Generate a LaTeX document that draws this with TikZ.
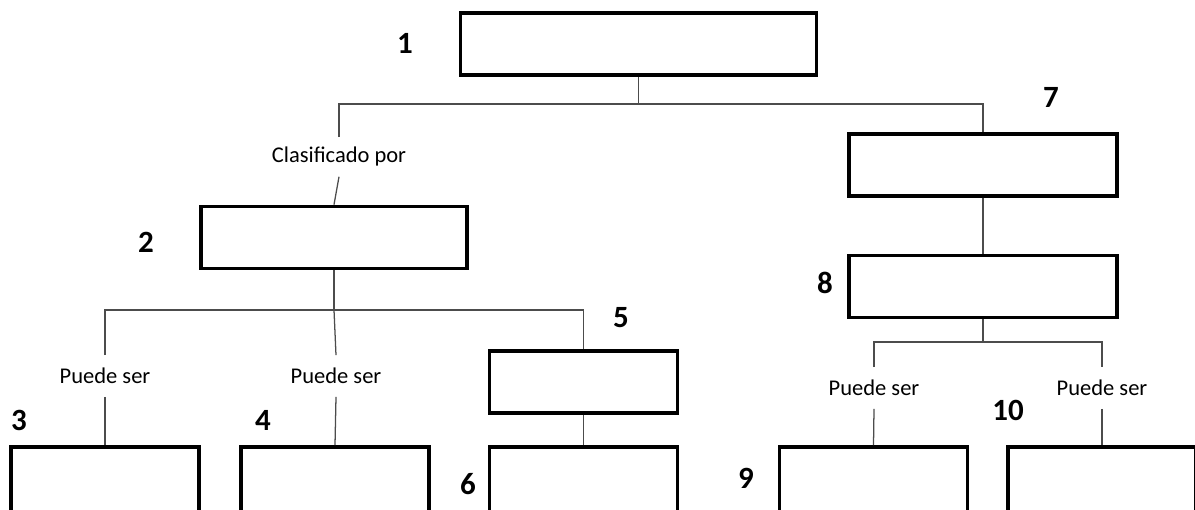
\documentclass[tikz,border=0pt]{standalone}
\usepackage{fontspec}
\setmainfont{Carlito}
\tikzset{
  box/.style={draw, line width=2.6pt, inner sep=0pt, minimum height=1.55cm},
  num/.style={font=\fontsize{22}{22}\selectfont\bfseries},
  rel/.style={font=\fontsize{16}{16}\selectfont, inner sep=9pt},
  link/.style={draw=black!70, line width=0.9pt}
}
\begin{document}
\begin{tikzpicture}[x=0.025cm,y=-0.025cm]
\useasboundingbox (0,0) rectangle (1195,510);
% cajas
\node[box, minimum width=8.9cm]  (b1)  at (638.5,44)  {};
\node[box, minimum width=6.65cm] (b2)  at (334,237.5) {};
\node[box, minimum width=4.7cm, minimum height=1.65cm] (b3)  at (105,480) {};
\node[box, minimum width=4.7cm, minimum height=1.65cm] (b4)  at (335,480) {};
\node[box, minimum width=4.7cm]  (b5)  at (583.5,382) {};
\node[box, minimum width=4.7cm, minimum height=1.65cm] (b6)  at (583.5,480) {};
\node[box, minimum width=6.7cm]  (b7)  at (983,165)  {};
\node[box, minimum width=6.7cm]  (b8)  at (983,286.5) {};
\node[box, minimum width=4.7cm, minimum height=1.65cm] (b9)  at (873.5,480) {};
\node[box, minimum width=4.7cm, minimum height=1.65cm] (b10) at (1102,480) {};
% numeros
\node[num] (n1)  at (405,43)   {1};
\node[num] (n2)  at (146,242)  {2};
\node[num] (n3)  at (19,420)   {3};
\node[num] (n4)  at (263,420)  {4};
\node[num] (n5)  at (621,318)  {5};
\node[num] (n6)  at (468,484)  {6};
\node[num] (n7)  at (1051,97)  {7};
\node[num] (n8)  at (825,283)  {8};
\node[num] (n9)  at (746,478)  {9};
\node[num] (n10) at (1008,410) {10};
% etiquetas
\node[rel, inner sep=7pt] (cp)  at (339,157) {Clasificado por};
\node[rel] (ps1) at (105,376) {Puede ser};
\node[rel] (ps2) at (336,376) {Puede ser};
\node[rel] (ps3) at (874,388) {Puede ser};
\node[rel] (ps4) at (1102,388) {Puede ser};
% uniones
\coordinate (t1) at (638.5,104);
\coordinate (t2) at (334,310);
\coordinate (t3) at (983,342);
\draw[link] (b1) -- (t1);
\draw[link] (cp.north) |- (t1) -| (b7.north);
\draw[link] (cp.south) -- (b2.north);
\draw[link] (b2) -- (t2);
\draw[link] (ps1.north) |- (t2) -| (b5.north);
\draw[link] (ps2.north) -- (t2);
\draw[link] (ps1.south) -- (b3.north);
\draw[link] (ps2.south) -- (b4.north);
\draw[link] (b5) -- (b6);
\draw[link] (b7) -- (b8);
\draw[link] (b8) -- (t3);
\draw[link] (ps3.north) |- (t3) -| (ps4.north);
\draw[link] (ps3.south) -- (b9.north);
\draw[link] (ps4.south) -- (b10.north);
\end{tikzpicture}
\end{document}
